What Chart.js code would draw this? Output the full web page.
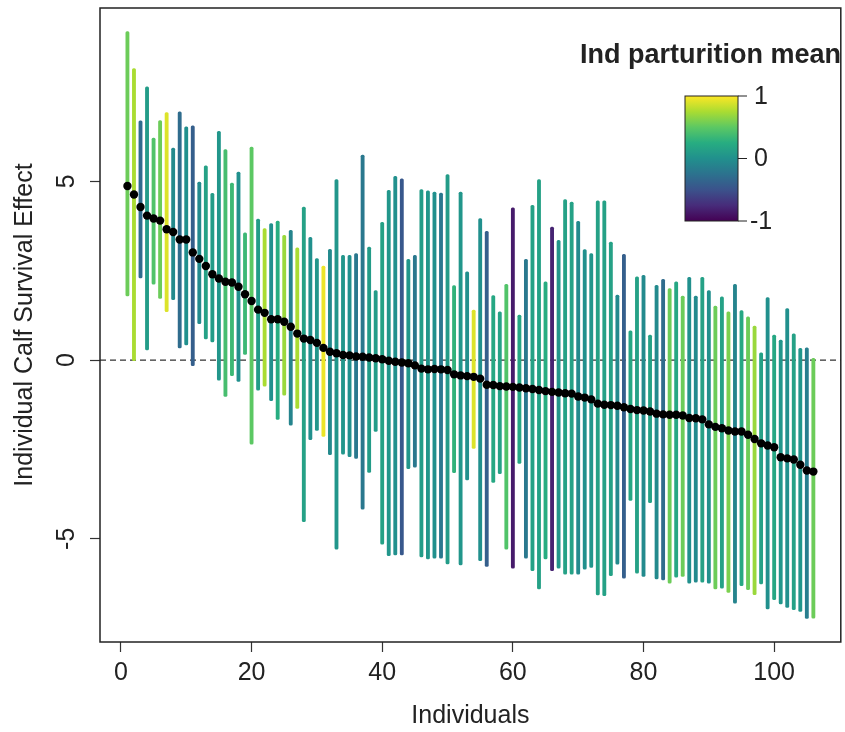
<!DOCTYPE html>
<html>
<head>
<meta charset="utf-8">
<script src="https://cdn.jsdelivr.net/npm/chart.js@4.4.1/dist/chart.umd.min.js"></script>
<style>
  html, body { margin: 0; padding: 0; background: #fff; }
  #chart { display: block; }
</style>
</head>
<body>
<canvas id="chart" width="845" height="732"></canvas>
<script>
// upper / lower end of each individual's interval, ordered by the mean
const upper = [
  9.19, 8.15, 6.69, 7.64, 6.21, 6.70, 6.92, 5.93, 6.94, 6.52, 6.55, 4.98, 5.43, 4.66, 6.40, 5.89, 4.95, 5.26,
  3.56, 5.96, 3.94, 3.68, 3.82, 3.89, 3.49, 3.63, 3.14, 4.28, 3.43, 2.84, 2.63, 3.10, 5.05, 2.93, 2.93, 2.98,
  5.73, 3.16, 1.94, 3.85, 4.75, 5.14, 5.07, 2.82, 2.93, 4.77, 4.73, 4.70, 4.67, 5.19, 2.08, 4.70, 2.47, 1.40,
  3.96, 3.60, 1.80, 1.35, 2.12, 4.26, 1.26, 2.82, 4.33, 5.05, 2.19, 3.72, 3.35, 4.49, 4.42, 3.88, 3.09, 2.98, 4.45,
  4.45, 3.30, 1.82, 2.96, 0.82, 2.33, 2.37, 0.70, 2.09, 2.26, 2.00, 2.19, 1.79, 2.31, 1.79, 2.31, 1.94, 1.51,
  1.77, 1.35, 2.12, 1.38, 1.21, 0.95, 0.20, 1.75, 0.70, 0.56, 1.44, 0.73, 0.33, 0.34, 0.05
];
const lower = [
  1.79, -0.02, 2.30, 0.28, 2.12, 1.72, 1.35, 1.69, 0.34, 0.42, -0.16, 1.02, 0.59, 0.51, -0.56, -1.02, -0.44, -0.60,
  0.16, -2.35, -0.84, -0.73, -1.14, -1.66, -0.98, -1.82, -1.35, -4.52, -2.23, -1.97, -2.14, -2.65, -5.29, -2.63, -2.70, -2.75,
  -4.17, -3.14, -2.00, -5.15, -5.47, -5.45, -5.45, -3.04, -3.00, -5.51, -5.56, -5.54, -5.54, -5.70, -3.15, -5.73, -3.35, -2.47,
  -5.61, -5.77, -3.42, -3.18, -5.29, -5.82, -2.89, -5.54, -5.89, -6.40, -5.56, -5.89, -5.82, -5.99, -5.99, -5.99, -5.85, -5.80, -6.57,
  -6.59, -6.03, -5.71, -6.10, -3.93, -5.96, -6.05, -3.99, -6.12, -6.15, -6.24, -6.07, -6.05, -6.24, -6.21, -6.21, -6.24, -6.40,
  -6.38, -6.50, -6.80, -6.31, -6.42, -6.56, -6.26, -6.96, -6.70, -6.82, -6.92, -6.98, -7.03, -7.23, -7.22
];
const means = [
  4.87, 4.63, 4.28, 4.04, 3.96, 3.90, 3.66, 3.58, 3.37, 3.37, 3.01, 2.83, 2.63, 2.40, 2.28, 2.19, 2.17, 2.05,
  1.84, 1.65, 1.41, 1.32, 1.14, 1.14, 1.07, 0.93, 0.74, 0.60, 0.56, 0.48, 0.34, 0.23, 0.19, 0.14, 0.13, 0.10,
  0.09, 0.07, 0.05, 0.02, -0.02, -0.05, -0.07, -0.09, -0.15, -0.24, -0.26, -0.25, -0.26, -0.28, -0.40, -0.43, -0.45, -0.47,
  -0.52, -0.69, -0.70, -0.73, -0.74, -0.75, -0.77, -0.79, -0.81, -0.84, -0.87, -0.89, -0.91, -0.93, -0.94, -1.02, -1.05, -1.10, -1.22,
  -1.25, -1.26, -1.28, -1.32, -1.37, -1.40, -1.41, -1.44, -1.50, -1.52, -1.53, -1.53, -1.55, -1.62, -1.63, -1.66, -1.80, -1.87,
  -1.91, -1.97, -2.00, -2.00, -2.09, -2.21, -2.33, -2.39, -2.44, -2.72, -2.75, -2.78, -2.93, -3.09, -3.12
];
// individual parturition mean, drives the colour of each interval
const parturition = [
  0.55, 0.75, -0.30, 0.10, 0.45, 0.55, 0.90, -0.05, -0.30, 0.00, -0.40, -0.05, 0.15, 0.10, 0.05, 0.40, 0.35, 0.00,
  0.35, 0.50, 0.10, 0.75, 0.00, 0.25, 0.70, -0.10, 0.75, 0.15, 0.00, 0.05, 0.95, -0.05, 0.05, 0.05, 0.00, -0.20,
  -0.20, 0.10, 0.10, 0.15, 0.05, 0.00, -0.45, 0.05, -0.20, 0.10, 0.05, 0.00, -0.20, 0.10, 0.30, 0.05, 0.00, 0.90,
  0.00, -0.40, 0.20, 0.15, 0.45, -0.85, 0.20, -0.20, 0.15, 0.15, 0.25, -0.80, 0.05, 0.15, 0.15, -0.05, 0.00, 0.05, 0.15,
  0.15, 0.15, -0.05, -0.40, 0.20, 0.15, -0.05, 0.15, -0.05, -0.30, 0.55, 0.20, 0.55, 0.00, -0.05, 0.15, 0.00, 0.55,
  0.15, 0.60, -0.10, 0.20, 0.55, 0.70, 0.15, 0.00, 0.20, 0.05, 0.00, 0.15, 0.05, -0.15, 0.55
];
const xTicks = [0, 20, 40, 60, 80, 100];
const yTicks = [-5, 0, 5];
const legendTicks = [-1, 0, 1];

const individuals = means.map((_, i) => i + 1);

// viridis, -1 .. 1
const viridisStops = ['#440154', '#472c7a', '#3b528b', '#2c728e', '#21908d', '#27ad81', '#5cc863', '#aadc32', '#fde725'];

function hexToRgb(h) {
  return [parseInt(h.slice(1, 3), 16), parseInt(h.slice(3, 5), 16), parseInt(h.slice(5, 7), 16)];
}

function viridis(v) {
  const n = viridisStops.length - 1;
  const t = Math.min(1, Math.max(0, (v + 1) / 2)) * n;
  const k = Math.min(Math.floor(t), n - 1);
  const f = t - k;
  const a = hexToRgb(viridisStops[k]);
  const b = hexToRgb(viridisStops[k + 1]);
  const c = a.map((x, j) => Math.round(x + (b[j] - x) * f));
  return `rgb(${c[0]},${c[1]},${c[2]})`;
}

// R style axis extension (4%)
const rRange = (lo, hi) => {
  const pad = (hi - lo) * 0.04;
  return [lo - pad, hi + pad];
};
const [xMin, xMax] = rRange(1, individuals.length);
const [yMin, yMax] = rRange(Math.min(...lower), Math.max(...upper));

const FONT = "'Liberation Sans', Arial, sans-serif";
const INK = '#222';

const framePlugin = {
  id: 'frame',
  beforeDatasetsDraw(chart) {
    const { ctx, chartArea: a, scales: { y } } = chart;
    const py = y.getPixelForValue(0);
    ctx.save();
    ctx.setLineDash([6, 4]);
    ctx.strokeStyle = '#333';
    ctx.lineWidth = 1.3;
    ctx.beginPath();
    ctx.moveTo(a.left, py);
    ctx.lineTo(a.right, py);
    ctx.stroke();
    ctx.restore();
  },
  afterDraw(chart) {
    const { ctx, chartArea: a } = chart;
    ctx.save();
    ctx.strokeStyle = INK;
    ctx.lineWidth = 1.5;
    ctx.strokeRect(a.left, a.top, a.right - a.left, a.bottom - a.top);

    // colour bar legend
    const bx = 685, bw = 53, bTop = 96, bBot = 221;
    const grad = ctx.createLinearGradient(0, bBot, 0, bTop);
    viridisStops.forEach((c, i) => grad.addColorStop(i / (viridisStops.length - 1), c));
    ctx.fillStyle = grad;
    ctx.fillRect(bx, bTop, bw, bBot - bTop);
    ctx.lineWidth = 1;
    ctx.strokeStyle = INK;
    ctx.strokeRect(bx, bTop, bw, bBot - bTop);

    ctx.fillStyle = INK;
    ctx.font = `25px ${FONT}`;
    ctx.textBaseline = 'middle';
    ctx.textAlign = 'left';
    legendTicks.forEach(v => {
      const py = bBot - (v - legendTicks[0]) / (legendTicks[2] - legendTicks[0]) * (bBot - bTop);
      ctx.beginPath();
      ctx.moveTo(bx + bw, py);
      ctx.lineTo(bx + bw + 9, py);
      ctx.stroke();
      ctx.fillText(String(v), bx + bw + (v < 0 ? 12 : 16), py + 1);
    });

    ctx.font = `bold 27px ${FONT}`;
    ctx.fillText('Ind parturition mean', 580, 56);
    ctx.restore();
  }
};

new Chart(document.getElementById('chart'), {
  type: 'bar',
  data: {
    datasets: [
      {
        type: 'scatter',
        data: individuals.map((x, i) => ({ x, y: means[i] })),
        pointRadius: 4.2,
        pointBackgroundColor: '#000',
        pointBorderWidth: 0,
        order: 0
      },
      {
        type: 'bar',
        data: individuals.map((x, i) => ({ x, y: [lower[i], upper[i]] })),
        backgroundColor: parturition.map(viridis),
        borderWidth: 0,
        borderSkipped: false,
        borderRadius: 1.5,
        barThickness: 3.2,
        order: 1
      }
    ]
  },
  options: {
    responsive: false,
    animation: false,
    layout: { padding: { left: 0, top: 8, right: 2, bottom: 0 } },
    plugins: { legend: { display: false }, tooltip: { enabled: false } },
    scales: {
      x: {
        type: 'linear',
        min: xMin,
        max: xMax,
        offset: false,
        afterBuildTicks: s => { s.ticks = xTicks.map(value => ({ value })); },
        afterFit: s => { s.height = 90; s.paddingLeft = 0; s.paddingRight = 0; },
        grid: { offset: false, drawOnChartArea: false, drawTicks: true, tickLength: 10, tickColor: '#333', tickWidth: 1.2 },
        border: { display: false },
        ticks: { font: { family: FONT, size: 25 }, color: INK, padding: 6, maxRotation: 0 },
        title: { display: true, text: 'Individuals', font: { family: FONT, size: 25 }, color: INK, padding: { top: 0, bottom: 1 } }
      },
      y: {
        type: 'linear',
        min: yMin,
        max: yMax,
        afterBuildTicks: s => { s.ticks = yTicks.map(value => ({ value })); },
        afterFit: s => { s.width = 100; s.paddingTop = 0; s.paddingBottom = 0; },
        grid: { offset: false, drawOnChartArea: false, drawTicks: true, tickLength: 10, tickColor: '#333', tickWidth: 1.2 },
        border: { display: false },
        ticks: { font: { family: FONT, size: 25 }, color: INK, padding: 12, minRotation: 90, maxRotation: 90, crossAlign: 'center' },
        title: { display: true, text: 'Individual Calf Survival Effect', font: { family: FONT, size: 25 }, color: INK, padding: { top: 10, bottom: 0 } }
      }
    }
  },
  plugins: [framePlugin]
});
</script>
</body>
</html>
